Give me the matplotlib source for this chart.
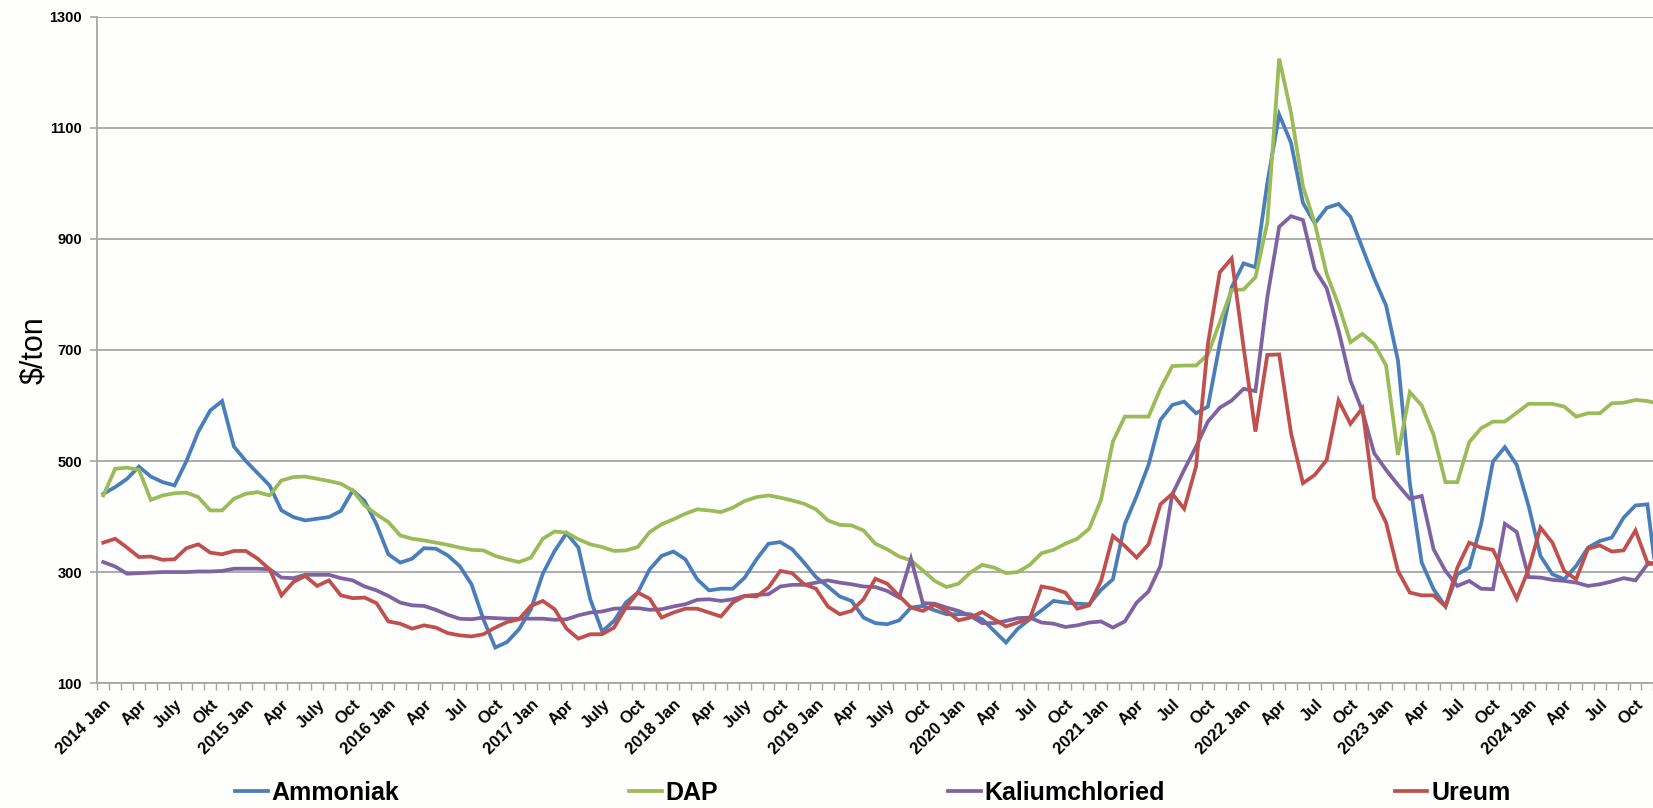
import matplotlib
matplotlib.use("Agg")
import matplotlib.pyplot as plt
import numpy as np

plt.rcParams['font.family'] = ['Liberation Sans', 'DejaVu Sans']

# maandprijzen 2014 Jan .. 2024 Dec, $/ton
ammoniak = [441, 453, 468, 490, 472, 462, 456, 500, 553, 591, 608, 526,
            500, 478, 456, 411, 399, 393, 396, 399, 410, 447, 428, 386,
            332, 317, 324, 343, 342, 330, 311, 278, 215, 164, 174, 197,
            233, 297, 338, 370, 344, 251, 193, 212, 245, 263, 305, 329,
            337, 323, 287, 267, 270, 270, 290, 323, 351, 354, 341, 317,
            291, 274, 256, 248, 218, 208, 206, 213, 236, 239, 231, 224,
            224, 224, 215, 194, 173, 198, 215, 231, 248, 245, 243, 242,
            268, 287, 386, 437, 493, 574, 601, 607, 586, 598, 711, 813,
            856, 849, 1001, 1124, 1073, 965, 928, 956, 963, 940, 884, 829,
            780, 681, 460, 317, 269, 238, 296, 308, 386, 499, 525, 493,
            419, 329, 296, 287, 311, 344, 356, 362, 398, 420, 422, 250]
dap = [438, 486, 488, 484, 430, 438, 442, 443, 435, 411, 411, 432,
       441, 444, 438, 465, 471, 472, 468, 464, 459, 447, 420, 404,
       390, 366, 360, 357, 353, 349, 344, 340, 339, 329, 323, 318,
       326, 360, 373, 371, 359, 350, 345, 338, 339, 345, 372, 386,
       395, 405, 413, 411, 408, 416, 428, 435, 438, 434, 429, 423,
       413, 393, 385, 384, 375, 351, 341, 328, 321, 303, 284, 273,
       279, 299, 313, 308, 298, 300, 313, 334, 340, 351, 360, 378,
       430, 535, 580, 580, 580, 630, 671, 672, 672, 692, 750, 808,
       809, 831, 929, 1225, 1127, 995, 928, 837, 781, 714, 729, 711,
       672, 511, 624, 600, 547, 462, 462, 534, 559, 571, 571, 587,
       603, 603, 603, 598, 580, 586, 586, 604, 605, 610, 608, 603]
kaliumchloried = [318, 310, 297, 298, 299, 300, 300, 300, 301, 301, 302, 306,
                  306, 306, 305, 290, 289, 295, 295, 295, 289, 285, 274, 267,
                  257, 245, 240, 239, 232, 223, 216, 215, 218, 217, 216, 216,
                  216, 216, 214, 215, 222, 227, 229, 234, 235, 235, 232, 233,
                  238, 242, 250, 251, 248, 251, 257, 259, 260, 274, 277, 277,
                  281, 285, 281, 278, 274, 273, 266, 254, 324, 244, 243, 236,
                  230, 221, 208, 208, 212, 217, 218, 209, 207, 201, 204, 209,
                  211, 200, 211, 245, 265, 311, 440, 484, 526, 571, 596, 609,
                  630, 626, 795, 922, 941, 934, 845, 811, 735, 645, 590, 514,
                  484, 457, 432, 437, 341, 302, 275, 284, 270, 269, 387, 372,
                  291, 290, 286, 284, 281, 275, 278, 283, 289, 285, 314, 316]
ureum = [353, 360, 344, 327, 328, 322, 323, 343, 350, 335, 332, 338,
         338, 324, 305, 258, 282, 293, 275, 285, 258, 253, 254, 244,
         211, 207, 198, 204, 200, 190, 186, 184, 188, 200, 210, 215,
         239, 248, 233, 198, 180, 188, 188, 200, 236, 263, 252, 218,
         227, 234, 234, 227, 220, 245, 257, 256, 272, 302, 298, 278,
         270, 238, 224, 230, 251, 288, 279, 257, 236, 230, 241, 230,
         213, 218, 228, 215, 202, 209, 216, 274, 270, 263, 234, 240,
         284, 365, 347, 326, 350, 422, 441, 414, 490, 711, 840, 865,
         705, 553, 691, 692, 550, 460, 475, 502, 609, 567, 595, 433,
         389, 302, 263, 258, 258, 238, 308, 353, 344, 340, 296, 252,
         305, 380, 353, 302, 287, 342, 348, 337, 339, 375, 317, 315]

series = ['Ammoniak', 'DAP', 'Kaliumchloried', 'Ureum']
colors = ['#4A7EBB', '#9BBB59', '#7F62A1', '#C0504D']

jaren = list(range(2014, 2025))
kwartaal_namen = {2014: ['Apr', 'July', 'Okt'], 2015: ['Apr', 'July', 'Oct'],
                  2017: ['Apr', 'July', 'Oct'], 2018: ['Apr', 'July', 'Oct'],
                  2019: ['Apr', 'July', 'Oct']}
labels = []
for j in jaren:
    labels += [str(j) + ' Jan'] + kwartaal_namen.get(j, ['Apr', 'Jul', 'Oct'])

n_visible = 131  # 2014 Jan .. 2024 Nov in beeld

fig = plt.figure(figsize=(16.53, 8.08), dpi=100, facecolor='#FEFEFC')
ax = fig.add_axes([0.0589, 0.1546, 0.9413, 0.8245])
ax.set_facecolor('#FEFEFC')

x = np.arange(len(ammoniak))
for data, name, c in zip([ammoniak, dap, kaliumchloried, ureum], series, colors):
    ax.plot(x, data, color=c, lw=2.7, label=name, solid_joinstyle='miter')

ax.set_xlim(-0.5, n_visible - 0.5)
ax.set_ylim(100, 1300)
ax.set_yticks(range(100, 1301, 200))
ax.yaxis.grid(True, color='#A6A6A6', lw=1.3)
ax.set_axisbelow(True)

ax.set_xticks(np.arange(0, len(labels) * 3, 3))
ax.set_xticklabels(labels, rotation=45, ha='right', va='top',
                   rotation_mode='anchor', fontsize=12, fontweight='bold')
ax.set_xticks(np.arange(-0.5, n_visible, 1), minor=True)
ax.tick_params(axis='x', which='major', length=0, pad=10)
ax.tick_params(axis='x', which='minor', length=5, width=1, color='#A6A6A6', direction='out')
ax.tick_params(axis='y', length=5, width=1.2, color='#A6A6A6', pad=6)
for t in ax.get_yticklabels():
    t.set_fontweight('bold')
    t.set_fontsize(10.5)

for s in ['top', 'right']:
    ax.spines[s].set_visible(False)
for s in ['left', 'bottom']:
    ax.spines[s].set_color('#A6A6A6')
    ax.spines[s].set_linewidth(1.3)

ax.set_ylabel('$/ton', fontsize=22)
ax.yaxis.set_label_coords(-0.031, 0.5)

fig.legend(loc='center', bbox_to_anchor=(0.528, 0.019), ncol=4, frameon=False,
           prop={'weight': 'bold', 'size': 18}, handlelength=1.3,
           handletextpad=0.15, columnspacing=9.2)

fig.savefig('out.png', dpi=100, facecolor=fig.get_facecolor())
